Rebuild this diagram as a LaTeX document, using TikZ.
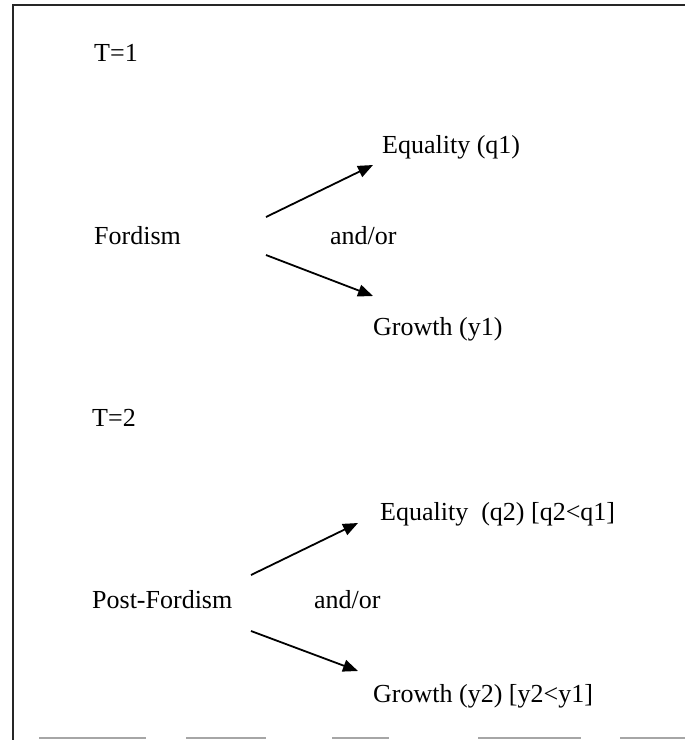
\documentclass[tikz,border=0pt]{standalone}
\usepackage{fontspec}
\setmainfont{Liberation Serif}
\usetikzlibrary{arrows.meta}
\begin{document}
\begin{tikzpicture}[x=1pt,y=-1pt,
  lbl/.style={anchor=base west,inner sep=0pt,font=\fontsize{26}{28}\selectfont},
  arr/.style={line width=1.8pt,-{Triangle[length=15pt,width=12pt]}},
  frame/.style={line width=2.2pt,black!85},
  bottomdash/.style={line width=2pt,black!35}]
\useasboundingbox (0,0) rectangle (685,740);
\draw[frame] (13,740) -- (13,5) -- (685,5);
\foreach \a/\b in {39/146,186/266,332/389,478/581,620/685}
  \draw[bottomdash] (\a,738) -- (\b,738);
\node[lbl] (t1) at (94,61) {T=1};
\node[lbl] (eq1) at (382,153) {Equality (q1)};
\node[lbl] (fo) at (94,244) {Fordism};
\node[lbl] (ao1) at (330,244) {and/or};
\node[lbl] (gr1) at (373,335) {Growth (y1)};
\coordinate (s1a) at (266,217);
\coordinate (e1a) at (373,165);
\coordinate (s1b) at (266,255);
\coordinate (e1b) at (373,296);
\draw[arr] (s1a) -- (e1a);
\draw[arr] (s1b) -- (e1b);
\node[lbl] (t2) at (92,426) {T=2};
\node[lbl] (eq2) at (380,520) {Equality~ (q2) [q2<q1]};
\node[lbl] (pf) at (92,608) {Post-Fordism};
\node[lbl] (ao2) at (314,608) {and/or};
\node[lbl] (gr2) at (373,702) {Growth (y2) [y2<y1]};
\coordinate (s2a) at (251,575);
\coordinate (e2a) at (358,523);
\coordinate (s2b) at (251,631);
\coordinate (e2b) at (358,671);
\draw[arr] (s2a) -- (e2a);
\draw[arr] (s2b) -- (e2b);
\end{tikzpicture}
\end{document}
